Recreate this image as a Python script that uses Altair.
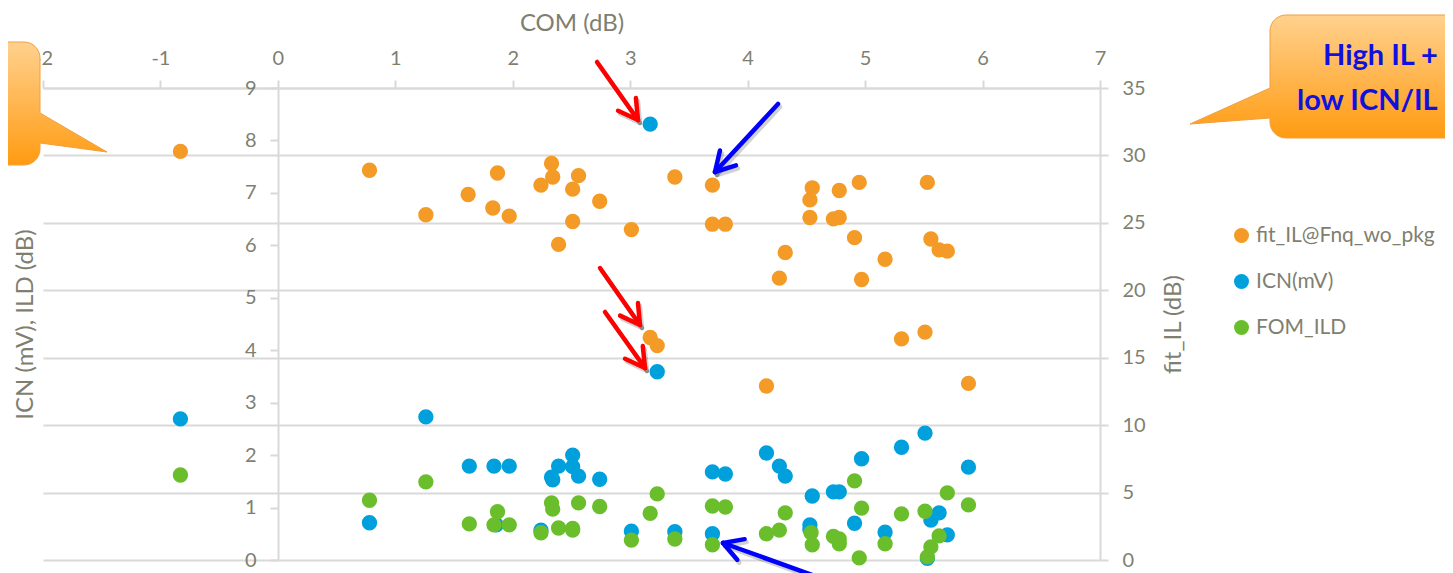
import math
import altair as alt
import pandas as pd

# ---------------- data ----------------
il_com = [-0.83, 0.78, 1.26, 1.62, 1.87, 1.83, 1.97, 2.24, 2.33, 2.34, 2.51, 2.56, 2.51, 2.39,
          2.74, 3.01, 3.17, 3.23, 3.38, 3.70, 3.70, 3.81, 4.32, 4.27, 4.16, 4.55, 4.53, 4.53,
          4.78, 4.73, 4.78, 4.95, 4.91, 4.97, 5.17, 5.53, 5.56, 5.63, 5.70, 5.31, 5.51, 5.88]
il_val = [30.3, 28.9, 25.6, 27.1, 28.7, 26.1, 25.5, 27.8, 29.4, 28.4, 27.5, 28.5, 25.1, 23.4,
          26.6, 24.5, 16.5, 15.9, 28.4, 27.8, 24.9, 24.9, 22.8, 20.9, 12.9, 27.6, 26.7, 25.4,
          27.4, 25.3, 25.4, 28.0, 23.9, 20.8, 22.3, 28.0, 23.8, 23.0, 22.9, 16.4, 16.9, 13.1]

icn_com = [-0.83, 0.78, 1.26, 1.63, 1.84, 1.97, 1.86, 2.24, 2.33, 2.34, 2.39, 2.51, 2.51, 2.56,
           2.74, 3.01, 3.17, 3.23, 3.38, 3.70, 3.70, 3.81, 4.16, 4.27, 4.32, 4.55, 4.53, 4.53,
           4.73, 4.78, 4.91, 4.97, 5.17, 5.31, 5.51, 5.53, 5.56, 5.63, 5.70, 5.88]
icn_val = [2.69, 0.71, 2.73, 1.79, 1.79, 1.79, 0.67, 0.57, 1.58, 1.53, 1.79, 2.00, 1.78, 1.60,
           1.54, 0.55, 8.31, 3.59, 0.54, 1.68, 0.50, 1.64, 2.04, 1.79, 1.60, 1.22, 0.67, 0.58,
           1.30, 1.30, 0.70, 1.93, 0.53, 2.15, 2.42, 0.03, 0.76, 0.90, 0.48, 1.77]

ild_com = [-0.83, 0.78, 1.26, 1.63, 1.87, 1.84, 1.97, 2.24, 2.33, 2.34, 2.39, 2.56, 2.51, 2.51,
           2.74, 3.01, 3.17, 3.23, 3.38, 3.70, 3.81, 3.70, 4.16, 4.27, 4.32, 4.54, 4.55, 4.73,
           4.78, 4.78, 4.91, 4.97, 4.95, 5.17, 5.31, 5.51, 5.70, 5.63, 5.56, 5.53, 5.88]
ild_val = [1.62, 1.14, 1.49, 0.69, 0.92, 0.67, 0.67, 0.52, 1.09, 0.97, 0.61, 1.09, 0.57, 0.60,
           1.02, 0.38, 0.89, 1.26, 0.40, 1.03, 1.01, 0.29, 0.50, 0.57, 0.90, 0.52, 0.29, 0.45,
           0.31, 0.40, 1.51, 0.99, 0.04, 0.31, 0.88, 0.93, 1.28, 0.46, 0.25, 0.06, 1.05]

x_ticks = [-2, -1, 0, 1, 2, 3, 4, 5, 6, 7]
left_ticks = [0, 1, 2, 3, 4, 5, 6, 7, 8, 9]
right_ticks = [0, 5, 10, 15, 20, 25, 30, 35]

S_IL, S_ICN, S_ILD = "fit_IL@Fnq_wo_pkg", "ICN(mV)", "FOM_ILD"
series_order = [S_IL, S_ICN, S_ILD]
series_colors = ["#F39B26", "#00A0DD", "#6ABE2C"]

# ---------------- layout / style ----------------
PL, PT = 43, 88          # plot origin on the page
W, H = 1057, 472
FONT = "Lato"
GRAY = "#7F7F70"
LINE = "#D9D9D9"


def px(x):
    return x - PL


def py(y):
    return y - PT


df_il = pd.DataFrame({"com": il_com, "value": il_val, "series": S_IL})
df_left = pd.concat([
    pd.DataFrame({"com": icn_com, "value": icn_val, "series": S_ICN}),
    pd.DataFrame({"com": ild_com, "value": ild_val, "series": S_ILD}),
], ignore_index=True)
df_left["ord"] = list(range(len(df_left)))

axis_common = dict(
    labelFont=FONT, labelFontSize=20, labelColor=GRAY,
    titleFont=FONT, titleFontSize=24, titleColor=GRAY, titleFontWeight="normal",
    domainColor=LINE, domainWidth=2, tickColor=LINE, tickWidth=2, tickSize=8,
    labelFlush=False, labelOverlap=False, labelExpr="'' + datum.value",
)

x_enc = alt.X("com:Q", scale=alt.Scale(domain=[-2, 7], nice=False, zero=False),
              axis=alt.Axis(orient="top", values=x_ticks, title="COM (dB)", grid=False,
                            labelPadding=12, titleX=W / 2, titleY=py(23),
                            titleBaseline="middle", titleAlign="center", **axis_common))

legend = alt.Legend(orient="none", legendX=px(1231), legendY=py(225), title=None,
                    labelFont=FONT, labelFontSize=21, labelColor=GRAY, labelLimit=0,
                    symbolType="circle", symbolSize=225, symbolStrokeWidth=0,
                    rowPadding=24, labelOffset=4, padding=0)
color_enc = alt.Color("series:N", scale=alt.Scale(domain=series_order, range=series_colors),
                      legend=legend)

il_layer = alt.Chart(df_il).mark_circle(size=235, opacity=1).encode(
    x=x_enc,
    y=alt.Y("value:Q", scale=alt.Scale(domain=[0, 35], nice=False),
            axis=alt.Axis(orient="right", values=right_ticks, title="fit_IL (dB)", grid=True,
                          gridColor=LINE, gridWidth=2, labelPadding=14,
                          titleX=73, titleY=H / 2, titleAngle=270, titleBaseline="middle",
                          titleAlign="center", **axis_common)),
    color=color_enc,
)

left_layer = alt.Chart(df_left).mark_circle(size=235, opacity=1).encode(
    x=x_enc,
    y=alt.Y("value:Q", scale=alt.Scale(domain=[0, 9], nice=False),
            axis=alt.Axis(orient="left", values=left_ticks, title="ICN (mV), ILD (dB)",
                          grid=False, offset=-(278 - PL), labelPadding=14,
                          titleX=25 - 278, titleY=H / 2, titleAngle=270,
                          titleBaseline="middle", titleAlign="center", **axis_common)),
    color=color_enc,
    order=alt.Order("ord:Q"),
)

one = alt.Data(values=[{}])

grad = alt.LinearGradient(gradient="linear",
                          stops=[alt.GradientStop(color="#FFD18E", offset=0),
                                 alt.GradientStop(color="#FF9B12", offset=1)],
                          x1=0, x2=0, y1=0, y2=1)

# callout on the right: anchor = box top-left corner (1270, 15)
right_callout_path = ("M 16,0 L 220,0 L 220,123 L 16,123 A 16 16 0 0 1 0,107 L 0,103 "
                      "L -80,109 L 0,73 L 0,16 A 16 16 0 0 1 16,0 Z")
right_callout = alt.Chart(one).mark_point(
    shape=right_callout_path, size=4, filled=True, fill=grad, stroke="#F0A040",
    strokeWidth=1, opacity=1).encode(x=alt.value(px(1270)), y=alt.value(py(15)))

# callout on the left: anchor = box top-right corner (40, 42)
left_callout_path = ("M -200,0 L -16,0 A 16 16 0 0 1 0,16 L 0,71 L 67,110 L 0,101 L 0,107 "
                     "A 16 16 0 0 1 -16,123 L -200,123 Z")
left_callout = alt.Chart(one).mark_point(
    shape=left_callout_path, size=4, filled=True, fill=grad, stroke="#F0A040",
    strokeWidth=1, opacity=1).encode(x=alt.value(px(40)), y=alt.value(py(42)))

callout_text = []
for txt, tx, ty in [("High IL +", 1323, 65), ("low ICN/IL", 1297, 110)]:
    callout_text.append(alt.Chart(one).mark_text(
        text=txt, align="left", baseline="alphabetic", font=FONT, fontSize=29,
        fontWeight="bold", color="#1010E0").encode(x=alt.value(px(tx)), y=alt.value(py(ty))))

# arrows: (colour, start, tip)
arrows = [
    ("#FF0000", (597, 62), (638, 120)),
    ("#FF0000", (600, 268), (640, 325)),
    ("#FF0000", (605, 312), (645, 368)),
    ("#0000FF", (778, 104), (715, 172)),
    ("#0000FF", (854, 590), (723, 543)),
]
arrow_layers = []
for col, (sx, sy), (tx, ty) in arrows:
    ang = math.atan2(sy - ty, sx - tx)
    segs = [((sx, sy), (tx, ty))]
    for d in (-0.52, 0.52):
        segs.append(((tx + 22 * math.cos(ang + d), ty + 22 * math.sin(ang + d)), (tx, ty)))
    for off, c, op in [((2, 3), "#000000", 0.18), ((0, 0), col, 1.0)]:
        for (a, b) in segs:
            arrow_layers.append(alt.Chart(one).mark_rule(
                color=c, strokeWidth=4.5, strokeCap="round", opacity=op).encode(
                x=alt.value(px(a[0] + off[0])), y=alt.value(py(a[1] + off[1])),
                x2=alt.value(px(b[0] + off[0])), y2=alt.value(py(b[1] + off[1]))))

chart = alt.layer(
    il_layer, left_layer, left_callout, right_callout, *callout_text, *arrow_layers
).resolve_scale(y="independent").properties(
    width=W, height=H,
    autosize=alt.AutoSizeParams(type="none"),
    padding={"left": PL - 8, "top": PT - 8, "right": 1445 - (PL + W), "bottom": 13},
).configure_view(strokeWidth=0)

chart.save("out.html", embed_options={"renderer": "svg", "actions": False})
